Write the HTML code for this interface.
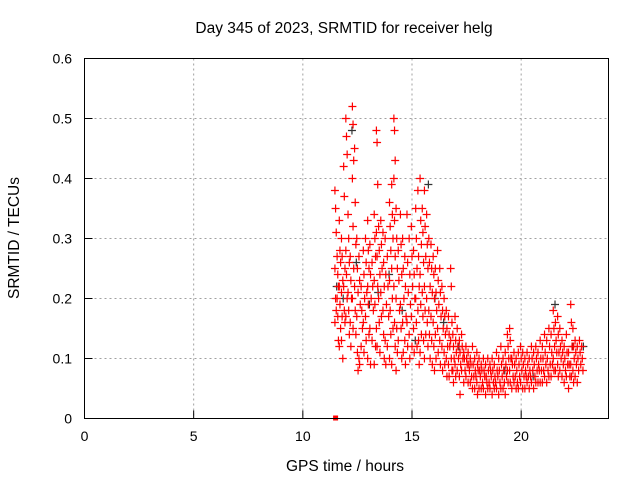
<!DOCTYPE html>
<html><head><meta charset="utf-8"><style>
body{margin:0;background:#fff}
svg{display:block;font-family:"Liberation Sans",sans-serif}
</style></head><body>
<svg id="chart" width="640" height="480">
<rect width="640" height="480" fill="#fff"/>
<g id="grid"></g>
<g id="pts"></g>
<rect x="84.5" y="58.5" width="524" height="360" fill="none" stroke="#000"/>
<g id="ticks"></g>
<text x="344" y="33" text-anchor="middle" font-size="15.5">Day 345 of 2023, SRMTID for receiver helg</text>
<text x="345" y="471" text-anchor="middle" font-size="15.5">GPS time / hours</text>
<text transform="translate(19,238) rotate(-90)" text-anchor="middle" font-size="15.5">SRMTID / TECUs</text>
</svg>
<script>
const xTicks=[0,5,10,15,20];
const yTicks=[0,0.1,0.2,0.3,0.4,0.5,0.6];
const yTickLabels=["0","0.1","0.2","0.3","0.4","0.5","0.6"];
const redCols=[
[11.5,[.38,.35,.31,.25,.2,.18,.16]],[11.6,[.27,.24,.22,.2,.17,.13]],[11.7,[.33,.28,.26,.22,.19,.15,.12]],
[11.8,[.3,.27,.23,.21,.17,.1,.13]],[11.9,[.42,.37,.25,.22,.18,.16]],[12.0,[.5,.47,.44,.28,.24,.2,.17]],
[12.1,[.34,.3,.26,.21,.18,.14]],[12.2,[.27,.23,.2,.16,.12]],[12.3,[.52,.49,.43,.4,.32,.25,.2,.15]],
[12.4,[.45,.36,.29,.22,.18,.14]],[12.5,[.3,.25,.21,.17,.11,.08]],[12.6,[.27,.23,.19,.1,.09]],
[12.7,[.22,.18,.15,.12]],[12.8,[.28,.24,.2,.16,.11]],[12.9,[.3,.26,.21,.17,.13]],
[13.0,[.33,.28,.25,.22,.19,.14,.1]],[13.1,[.29,.24,.2,.15,.09]],[13.2,[.26,.22,.18,.13]],
[13.3,[.34,.3,.27,.23,.19,.12,.09]],[13.4,[.48,.46,.39,.31,.27,.22,.15,.12]],[13.5,[.32,.28,.24,.2,.16,.11]],
[13.6,[.33,.29,.25,.21,.17]],[13.7,[.31,.26,.22,.18,.14,.1]],[13.8,[.3,.24,.19,.13,.09]],
[13.9,[.27,.22,.17,.12]],[14.0,[.36,.32,.28,.23,.18,.14,.1]],[14.1,[.39,.34,.3,.25,.2,.15,.09]],
[14.2,[.5,.48,.43,.4,.33,.27,.22,.16,.12]],[14.3,[.35,.3,.25,.2,.15,.11,.08]],[14.4,[.28,.23,.18,.13]],
[14.5,[.34,.29,.24,.19,.15,.1]],[14.6,[.3,.25,.2,.16,.11]],[14.7,[.27,.22,.17,.13,.09]],
[14.8,[.34,.26,.21,.16,.12]],[14.9,[.3,.24,.19,.14,.1]],[15.0,[.32,.27,.22,.17,.12]],
[15.1,[.28,.24,.2,.15,.11]],[15.2,[.35,.3,.25,.2,.16,.12]],[15.3,[.38,.27,.22,.18,.13,.09]],
[15.4,[.4,.33,.29,.24,.19,.14,.11]],[15.5,[.35,.31,.26,.21,.17,.13]],[15.6,[.38,.32,.27,.22,.18,.14,.1]],
[15.7,[.34,.29,.25,.2,.16,.12]],[15.8,[.3,.26,.22,.18,.14,.1]],[15.9,[.29,.25,.21,.17,.13,.09]],
[16.0,[.27,.24,.2,.16,.12,.08]],[16.1,[.25,.21,.18,.14,.1]],[16.2,[.28,.23,.19,.15,.11]],
[16.3,[.25,.21,.17,.13,.09]],[16.4,[.22,.18,.15,.12,.08]],[16.5,[.2,.17,.14,.11,.09]],
[16.6,[.18,.15,.12,.1,.07]],[16.7,[.17,.14,.12,.09,.07]],[16.8,[.25,.22,.16,.13,.1,.08]],
[16.9,[.14,.12,.1,.08,.06]],[17.0,[.17,.13,.11,.09,.07]],[17.1,[.15,.12,.1,.08]],
[17.2,[.13,.11,.09,.07,.04]],[17.3,[.14,.12,.1,.08]],[17.4,[.11,.1,.08,.06]],
[17.5,[.12,.1,.09,.07]],[17.6,[.11,.09,.08,.06]],[17.7,[.1,.09,.07,.06]],
[17.8,[.12,.09,.07,.05]],[17.9,[.1,.08,.07,.05]],[18.0,[.11,.09,.08,.06,.04]],
[18.1,[.1,.08,.07,.05]],[18.2,[.09,.08,.06,.05]],[18.3,[.1,.08,.07,.05]],
[18.4,[.09,.07,.06,.04]],[18.5,[.1,.08,.06,.05]],[18.6,[.09,.08,.07,.05]],
[18.7,[.1,.08,.06,.04]],[18.8,[.09,.07,.06,.05]],[18.9,[.11,.08,.07,.05]],
[19.0,[.1,.08,.06,.04]],[19.1,[.12,.09,.07,.05]],[19.2,[.1,.08,.06,.05]],
[19.3,[.11,.09,.07,.04]],[19.4,[.14,.12,.1,.08,.06]],[19.5,[.15,.13,.1,.08,.06]],
[19.6,[.1,.09,.07,.05]],[19.7,[.11,.09,.07,.06]],[19.8,[.1,.08,.06,.05]],
[19.9,[.11,.09,.07,.05]],[20.0,[.12,.1,.08,.06]],[20.1,[.11,.09,.07,.05]],
[20.2,[.1,.08,.07,.05]],[20.3,[.11,.09,.07,.06]],[20.4,[.1,.08,.07,.05]],
[20.5,[.12,.1,.08,.06]],[20.6,[.11,.09,.07,.05]],[20.7,[.12,.1,.08,.06]],
[20.8,[.11,.09,.08,.06]],[20.9,[.13,.1,.08,.06]],[21.0,[.12,.1,.08,.06]],
[21.1,[.14,.11,.09,.07]],[21.2,[.13,.1,.08,.06]],[21.3,[.15,.12,.09,.07]],
[21.4,[.14,.11,.09,.07]],[21.5,[.18,.15,.12,.1,.08]],[21.6,[.16,.13,.11,.08]],
[21.7,[.17,.14,.11,.09,.07]],[21.8,[.15,.12,.1,.08]],[21.9,[.13,.11,.09,.07]],
[22.0,[.12,.1,.08,.06]],[22.1,[.14,.11,.09,.07]],[22.2,[.11,.09,.07,.05]],
[22.3,[.19,.16,.12,.09,.07]],[22.4,[.15,.12,.1,.08,.06]],[22.5,[.13,.11,.09,.07]],
[22.6,[.12,.1,.08,.06]],[22.7,[.13,.11,.09]],[22.8,[.12,.1,.08]]
];
const blackTimes=[11.55,11.85,12.25,12.45,13.05,13.45,13.95,14.55,15.15,15.75,16.05,16.45,17.15,19.25,20.55,21.55,22.35,22.85];
const blackValues=[.22,.2,.48,.26,.19,.21,.24,.18,.13,.39,.2,.16,.12,.08,.07,.19,.12,.12];
const xS=v=>84.5+v*524/24, yS=v=>418.5-v*600;
const NS="http://www.w3.org/2000/svg";
const grid=document.getElementById('grid'),ticks=document.getElementById('ticks'),pts=document.getElementById('pts');
function mk(tag,attrs,parent){const e=document.createElementNS(NS,tag);for(const k in attrs)e.setAttribute(k,attrs[k]);parent.appendChild(e);return e;}
xTicks.forEach(t=>{const x=xS(t);
 if(t>0){const g=mk('line',{x1:x,x2:x,y1:58.5,y2:418.5,stroke:'#a0a0a0','stroke-dasharray':'2,3'},grid);
 
 }
 mk('line',{x1:x,x2:x,y1:418.5,y2:410.5,stroke:'#000'},ticks);
 const l=mk('text',{x:x,y:441,'text-anchor':'middle','font-size':14},ticks);l.textContent=t;
 
 });
yTicks.forEach((t,i)=>{const y=yS(t);
 if(t>0&&t<0.6){const g=mk('line',{x1:84.5,x2:608.5,y1:y,y2:y,stroke:'#a0a0a0','stroke-dasharray':'2,3'},grid);
 
 }
 mk('line',{x1:84.5,x2:92.5,y1:y,y2:y,stroke:'#000'},ticks);
 const l=mk('text',{x:72,y:y+5,'text-anchor':'end','font-size':14},ticks);l.textContent=yTickLabels[i];
 
 });
function plus(t,v,c){const x=xS(t),y=yS(v);
 const p=mk('path',{d:`M${x-4},${y}h8M${x},${y-4}v8`,stroke:c,'stroke-width':1.2,fill:'none'},pts);
 
 }
blackTimes.forEach((t,i)=>plus(t,blackValues[i],'#333'));
redCols.forEach(([t,vs],ci)=>vs.forEach((v,j)=>plus(t+((j%3)-1)*0.03,v,'#f00')));
const sq=mk('rect',{x:xS(11.5)-2.5,y:yS(0)-3,width:5,height:5,fill:'#f00'},pts);


</script>
</body></html>
